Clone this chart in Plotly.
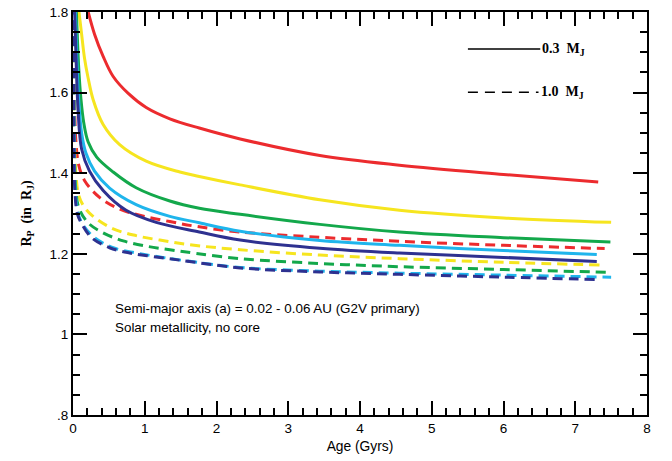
import plotly.graph_objects as go

# ---- data (Age in Gyr, radius in R_J) ----
colors = ["#EC2B2E", "#F6E51F", "#13A84B", "#1FB5EC", "#2E3190"]

# 0.3 M_J (solid)
red_s_x = [0.19, 0.30, 0.42, 0.56, 0.77, 1.02, 1.35, 1.76, 2.33, 3.44, 4.55, 6.00, 7.32]
red_s_y = [1.815, 1.745, 1.690, 1.640, 1.598, 1.563, 1.535, 1.512, 1.485, 1.444, 1.420, 1.397, 1.378]

yel_s_x = [0.07, 0.12, 0.16, 0.21, 0.28, 0.42, 0.65, 1.02, 1.49, 1.76, 2.33, 3.44, 4.55, 6.00, 7.50]
yel_s_y = [1.820, 1.745, 1.686, 1.637, 1.583, 1.521, 1.471, 1.430, 1.403, 1.392, 1.371, 1.334, 1.308, 1.289, 1.278]

grn_s_x = [0.045, 0.06, 0.08, 0.11, 0.15, 0.21, 0.33, 0.56, 0.88, 1.35, 1.76, 2.33, 3.44, 4.55, 6.00, 7.49]
grn_s_y = [1.810, 1.740, 1.660, 1.585, 1.525, 1.478, 1.440, 1.403, 1.364, 1.331, 1.313, 1.298, 1.273, 1.254, 1.240, 1.229]

cyn_s_x = [0.03, 0.05, 0.08, 0.12, 0.18, 0.30, 0.51, 0.88, 1.35, 1.76, 2.33, 3.44, 4.55, 6.00, 7.30]
cyn_s_y = [1.820, 1.700, 1.580, 1.500, 1.450, 1.405, 1.363, 1.322, 1.293, 1.277, 1.256, 1.233, 1.221, 1.208, 1.198]

nav_s_x = [0.02, 0.04, 0.07, 0.12, 0.23, 0.42, 0.74, 1.16, 1.76, 2.33, 3.44, 4.55, 6.00, 7.30]
nav_s_y = [1.820, 1.700, 1.560, 1.460, 1.405, 1.357, 1.308, 1.278, 1.254, 1.234, 1.214, 1.202, 1.191, 1.181]

# 1.0 M_J (dashed)
red_d_x = [0.012, 0.02, 0.04, 0.08, 0.16, 0.37, 0.65, 0.97, 1.35, 1.72, 2.33, 3.44, 4.55, 6.00, 7.41]
red_d_y = [1.820, 1.600, 1.480, 1.420, 1.382, 1.340, 1.311, 1.294, 1.280, 1.268, 1.254, 1.241, 1.231, 1.221, 1.213]

yel_d_x = [0.010, 0.02, 0.04, 0.08, 0.15, 0.28, 0.56, 0.88, 1.21, 1.60, 2.33, 3.44, 4.55, 6.00, 7.36]
yel_d_y = [1.820, 1.500, 1.400, 1.345, 1.318, 1.293, 1.262, 1.245, 1.234, 1.223, 1.210, 1.197, 1.188, 1.179, 1.172]

grn_d_x = [0.010, 0.02, 0.04, 0.08, 0.21, 0.42, 0.70, 1.02, 1.35, 1.72, 2.33, 3.44, 4.55, 6.00, 7.45]
grn_d_y = [1.820, 1.450, 1.360, 1.315, 1.277, 1.252, 1.232, 1.219, 1.210, 1.201, 1.188, 1.176, 1.168, 1.161, 1.154]

cyn_d_x = [0.008, 0.015, 0.03, 0.07, 0.14, 0.30, 0.56, 0.88, 1.21, 1.60, 2.33, 3.44, 4.55, 6.00, 7.50]
cyn_d_y = [1.820, 1.500, 1.360, 1.300, 1.272, 1.240, 1.215, 1.202, 1.192, 1.182, 1.166, 1.157, 1.152, 1.147, 1.142]

nav_d_x = [0.007, 0.013, 0.025, 0.06, 0.12, 0.26, 0.51, 0.79, 1.12, 1.50, 2.33, 3.44, 4.55, 6.00, 7.34]
nav_d_y = [1.820, 1.500, 1.360, 1.300, 1.275, 1.240, 1.215, 1.202, 1.193, 1.184, 1.165, 1.155, 1.149, 1.142, 1.136]

solid_series = [(red_s_x, red_s_y), (yel_s_x, yel_s_y), (grn_s_x, grn_s_y),
                (cyn_s_x, cyn_s_y), (nav_s_x, nav_s_y)]
dashed_series = [(red_d_x, red_d_y), (yel_d_x, yel_d_y), (grn_d_x, grn_d_y),
                 (cyn_d_x, cyn_d_y), (nav_d_x, nav_d_y)]

x_ticks = [0, 1, 2, 3, 4, 5, 6, 7, 8]
y_tickvals = [0.8, 1.0, 1.2, 1.4, 1.6, 1.8]
y_ticktext = [".8", "1", "1.2", "1.4", "1.6", "1.8"]

fig = go.Figure()

for (xs, ys), c in zip(dashed_series, colors):
    fig.add_trace(go.Scatter(x=xs, y=ys, mode="lines",
                             line=dict(color=c, width=3, dash="10px,6px", shape="spline", smoothing=1.0),
                             showlegend=False, hoverinfo="skip"))
for (xs, ys), c in zip(solid_series, colors):
    fig.add_trace(go.Scatter(x=xs, y=ys, mode="lines",
                             line=dict(color=c, width=3, shape="spline", smoothing=1.0),
                             showlegend=False, hoverinfo="skip"))

sans_family = "Liberation Sans, Arial, sans-serif"
serif_family = "Liberation Serif, DejaVu Serif, serif"

axis_common = dict(showline=True, linecolor="black", linewidth=2, mirror="ticks",
                   ticks="inside", ticklen=14, tickwidth=1.5, tickcolor="black",
                   showgrid=False, zeroline=False, automargin=False,
                   tickfont=dict(family=sans_family, size=13.5, color="black"))

fig.update_xaxes(range=[0, 8], tickvals=x_ticks, ticktext=[str(v) for v in x_ticks],
                 minor=dict(dtick=0.2, ticklen=7, tickwidth=1.5, tickcolor="black", ticks="inside"),
                 title=dict(text="Age (Gyrs)", standoff=6,
                            font=dict(family=sans_family, size=13.8, color="black")),
                 **axis_common)
fig.update_yaxes(range=[0.8, 1.8], tickvals=y_tickvals, ticktext=y_ticktext,
                 minor=dict(dtick=0.05, tick0=0.8, ticklen=7, tickwidth=1.5, tickcolor="black", ticks="inside"),
                 title=dict(text="<b>R<sub>P</sub>  (in  R<sub>J</sub>)</b>", standoff=15,
                            font=dict(family=serif_family, size=14, color="black")),
                 **axis_common)

# legend drawn inside the plot
serif = dict(family=serif_family, size=14, color="black")
fig.add_shape(type="line", xref="paper", yref="paper", x0=0.688, x1=0.814, y0=0.908, y1=0.908,
              line=dict(color="black", width=1.5))
fig.add_shape(type="line", xref="paper", yref="paper", x0=0.688, x1=0.811, y0=0.801, y1=0.801,
              line=dict(color="black", width=1.5, dash="10px,7px"))
fig.add_annotation(xref="paper", yref="paper", x=0.814, y=0.908, xanchor="left", yanchor="middle",
                   text="<b>0.3  M<sub>J</sub></b>", showarrow=False, font=serif)
fig.add_annotation(xref="paper", yref="paper", x=0.811, y=0.801, xanchor="left", yanchor="middle",
                   text="<b>1.0  M<sub>J</sub></b>", showarrow=False, font=serif)

sans = dict(family=sans_family, size=13.4, color="black")
fig.add_annotation(xref="paper", yref="paper", x=(113 - 73) / 574, y=(415 - 308) / 403,
                   xanchor="left", yanchor="middle", showarrow=False, font=sans,
                   text="Semi-major axis (a) = 0.02 - 0.06 AU (G2V primary)")
fig.add_annotation(xref="paper", yref="paper", x=(113 - 73) / 574, y=(415 - 327) / 403,
                   xanchor="left", yanchor="middle", showarrow=False, font=sans,
                   text="Solar metallicity, no core")

fig.update_layout(width=672, height=461, margin=dict(l=73, r=25, t=12, b=46),
                  plot_bgcolor="white", paper_bgcolor="white", showlegend=False)

fig.write_html("out.html", config={"displayModeBar": False},
               post_script="document.body.style.margin='0px';")
